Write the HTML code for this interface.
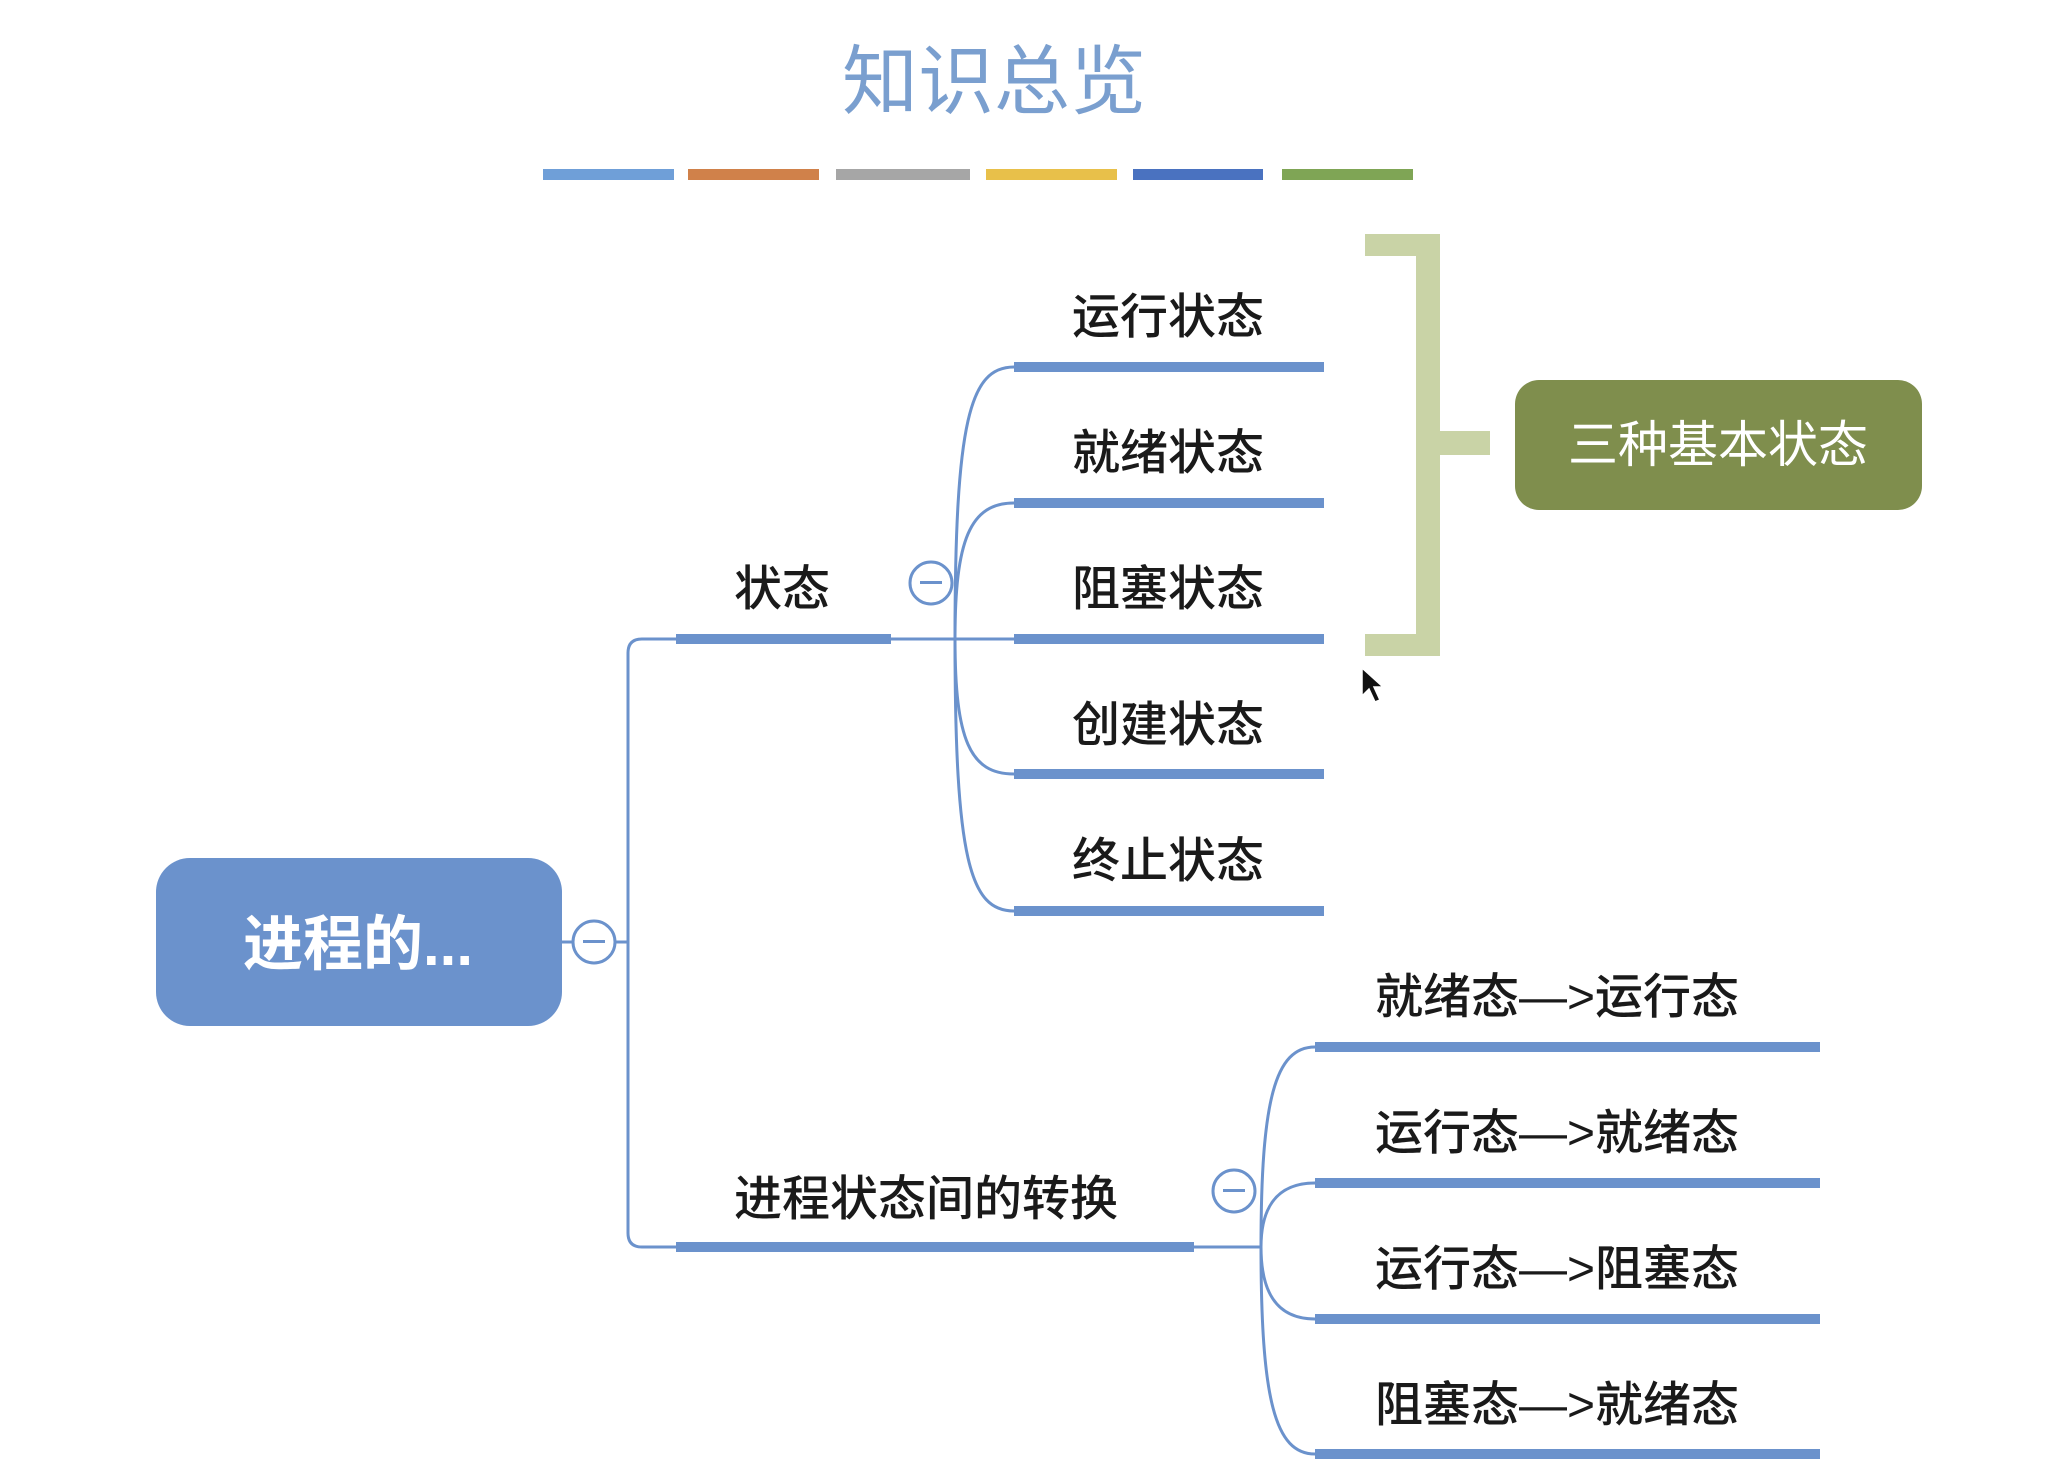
<!DOCTYPE html>
<html><head><meta charset="utf-8"><style>
html,body{margin:0;padding:0;background:#fff;}
svg{display:block;}
text{font-family:"Liberation Sans","Noto Sans CJK SC",sans-serif;}
</style></head><body>
<svg width="2070" height="1478" viewBox="0 0 2070 1478" xmlns="http://www.w3.org/2000/svg">
<rect width="2070" height="1478" fill="#fff"/>
<text x="994" y="108" font-size="76" fill="#7a9fcf" text-anchor="middle" font-family="Noto Sans CJK SC, sans-serif">知识总览</text>
<g>
<rect x="543" y="169" width="131" height="11" fill="#6f9fd8"/>
<rect x="688" y="169" width="131" height="11" fill="#d0814a"/>
<rect x="836" y="169" width="134" height="11" fill="#a6a6a6"/>
<rect x="986" y="169" width="131" height="11" fill="#e8c04a"/>
<rect x="1133" y="169" width="130" height="11" fill="#4a72c0"/>
<rect x="1282" y="169" width="131" height="11" fill="#7fa555"/>
</g>
<!-- root -->
<rect x="156" y="858" width="406" height="168" rx="34" fill="#6b92cc"/>
<text x="358" y="965" font-size="60" font-weight="bold" fill="#fff" text-anchor="middle" font-family="Noto Sans CJK SC, sans-serif">进程的...</text>
<g fill="none" stroke="#6b92cc" stroke-width="3">
<line x1="562" y1="942" x2="628" y2="942"/>
<path d="M676 639 H642 Q628 639 628 653 V1233 Q628 1247 642 1247 H676"/>
<circle cx="594" cy="942" r="21" fill="#fff"/>
<!-- state branch -->
<line x1="891" y1="639" x2="1014" y2="639"/>
<path d="M955 639 C955 420 970 367 1014 367"/>
<path d="M955 639 C955 540 970 503 1014 503"/>
<path d="M955 639 C955 740 970 774 1014 774"/>
<path d="M955 639 C955 860 970 911 1014 911"/>
<circle cx="931" cy="583" r="21" fill="#fff"/>
<!-- transition branch -->
<line x1="1194" y1="1247" x2="1261" y2="1247"/>
<path d="M1261 1247 C1261 1100 1275 1047 1315 1047"/>
<path d="M1261 1247 C1261 1210 1275 1183 1315 1183"/>
<path d="M1261 1247 C1261 1290 1275 1319 1315 1319"/>
<path d="M1261 1247 C1261 1400 1275 1454 1315 1454"/>
<circle cx="1234" cy="1191" r="21" fill="#fff"/>
</g>
<g fill="#6b92cc">
<rect x="594" y="940" width="1" height="1"/>
<rect x="583" y="940" width="22" height="3"/>
<rect x="920" y="581" width="22" height="3"/>
<rect x="1223" y="1189" width="22" height="3"/>
<rect x="676" y="634" width="215" height="10"/>
<rect x="676" y="1242" width="518" height="10"/>
<rect x="1014" y="362" width="310" height="10"/>
<rect x="1014" y="498" width="310" height="10"/>
<rect x="1014" y="634" width="310" height="10"/>
<rect x="1014" y="769" width="310" height="10"/>
<rect x="1014" y="906" width="310" height="10"/>
<rect x="1315" y="1042" width="505" height="10"/>
<rect x="1315" y="1178" width="505" height="10"/>
<rect x="1315" y="1314" width="505" height="10"/>
<rect x="1315" y="1449" width="505" height="10"/>
</g>
<g font-size="48" fill="#1a1a1a" font-family="Noto Sans CJK SC, sans-serif" font-weight="500">
<text x="734" y="605">状态</text>
<text x="734" y="1215">进程状态间的转换</text>
<text x="1072" y="333">运行状态</text>
<text x="1072" y="469">就绪状态</text>
<text x="1072" y="605">阻塞状态</text>
<text x="1072" y="741">创建状态</text>
<text x="1072" y="877">终止状态</text>
<text x="1375" y="1013">就绪态—&gt;运行态</text>
<text x="1375" y="1149">运行态—&gt;就绪态</text>
<text x="1375" y="1285">运行态—&gt;阻塞态</text>
<text x="1375" y="1421">阻塞态—&gt;就绪态</text>
</g>
<!-- bracket -->
<g fill="#c9d3a6">
<rect x="1365" y="234" width="75" height="22"/>
<rect x="1416" y="234" width="24" height="422"/>
<rect x="1365" y="634" width="75" height="22"/>
<rect x="1440" y="431" width="50" height="24"/>
</g>
<rect x="1515" y="380" width="407" height="130" rx="24" fill="#7f8e4d"/>
<text x="1718" y="462" font-size="50" fill="#fff" text-anchor="middle" font-family="Noto Sans CJK SC, sans-serif">三种基本状态</text>
<path d="M1362 668 L1362 696 L1369 689 L1375 702 L1380 700 L1374 687 L1383 687 Z" fill="#111" stroke="#fff" stroke-width="1.5"/>
</svg>
</body></html>
